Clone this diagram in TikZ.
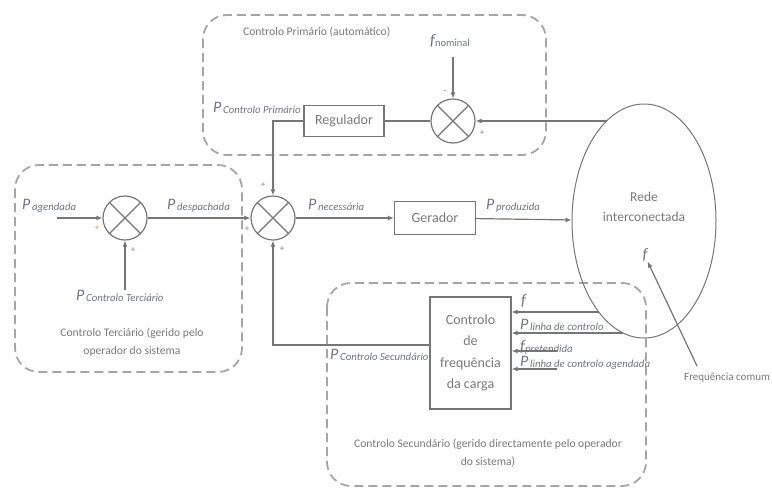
\documentclass[tikz,border=0pt]{standalone}
\usepackage{fontspec}
\setmainfont{Carlito}
\usetikzlibrary{shapes.geometric, arrows.meta, positioning}
\definecolor{linegray}{HTML}{767676}
\definecolor{txtgray}{HTML}{7A7A7A}
\definecolor{siggray}{HTML}{6E7682}
\definecolor{dashgray}{HTML}{A6A6A6}
\definecolor{signpurple}{HTML}{9B6FB5}
\definecolor{signorange}{HTML}{D8955E}
\tikzstyle{block} = [rectangle, draw=linegray, line width=1.2pt, text=txtgray, font=\fontsize{14}{21.5}\selectfont, align=center, inner sep=0pt]
\tikzstyle{summer} = [circle, draw=linegray, line width=1.2pt, minimum size=44pt, inner sep=0pt, path picture={\draw[linegray, line width=1.2pt] (path picture bounding box.north west) -- (path picture bounding box.south east) (path picture bounding box.north east) -- (path picture bounding box.south west);}]
\tikzstyle{area} = [draw=dashgray, line width=1.8pt, dash pattern=on 9pt off 5pt, rounded corners=24pt]
\tikzstyle{flow} = [line width=1.2pt, draw=linegray, -{Latex[length=6pt,width=5pt]}]
\tikzstyle{wire} = [line width=1.2pt, draw=linegray]
\tikzstyle{sign} = [text=signpurple, font=\fontsize{9}{9}\selectfont, inner sep=0pt]
\tikzstyle{caption} = [text=txtgray, font=\fontsize{11.6}{18}\selectfont, align=center, inner sep=0pt]
\tikzstyle{sig} = [text=siggray, inner sep=0pt, anchor=base west]
\newcommand{\psig}[1]{{\fontsize{16}{16}\selectfont\itshape P}\,\raisebox{-1.5pt}{\fontsize{10.8}{11}\selectfont\itshape #1}}
\newcommand{\fsig}[1]{{\fontsize{16}{16}\selectfont\itshape f}\raisebox{-1.5pt}{\fontsize{10.8}{11}\selectfont\itshape #1}}

\begin{document}
\begin{tikzpicture}[x=1pt, y=-1pt]
\useasboundingbox (0,0) rectangle (772,488);

% Areas
\draw[area] (203,15) rectangle (546,155);
\draw[area] (15,165) rectangle (242,372);
\draw[area] (327,283) rectangle (646,486);
\node (primtxt) [caption, anchor=west] at (243,32) {Controlo Primário (automático)};
\node (tertxt) [caption] at (132,342) {Controlo Terciário (gerido pelo\\operador do sistema};
\node (sectxt) [caption] at (488,453) {Controlo Secundário (gerido directamente pelo operador\\do sistema)};

% Nodes
\node (s1) [summer] at (125,218) {};
\node (s2) [summer, right of=s1, node distance=148pt] {};
\node (gerador) [block, right of=s2, node distance=162pt, minimum width=81pt, minimum height=33pt] {Gerador};
\node (rede) [ellipse, draw=linegray, line width=1pt, minimum width=144pt, minimum height=234pt] at (644,221) {};
\node (redetxt) [caption, font=\fontsize{13.5}{20}\selectfont] at (644,207) {Rede\\interconectada};
\node (fnet) [sig, anchor=center, text=siggray] at (645,255) {\fontsize{16}{16}\selectfont\itshape f};
\node (s3) [summer] at (453,121) {};
\node (regulador) [block, left of=s3, node distance=109pt, minimum width=80pt, minimum height=31pt] {Regulador};
\node (ctrl) [block, minimum width=81pt, minimum height=112pt] at (470.5,353) {Controlo\\de\\frequência\\da carga};
\node (freq) [caption, anchor=west, font=\fontsize{11}{12}\selectfont] at (684,378) {Frequência comum};

% Free ends
\coordinate (pin) at (57,218);
\coordinate (pter) at (125,290);
\coordinate (fnom) at (453,57);
\coordinate (rA) at (607,121);
\coordinate (rB) at (599,312);
\coordinate (rC) at (623,333);
\coordinate (fpre) at (557,351);
\coordinate (plag) at (557,369);
\coordinate (fc) at (697,366);

% Signals
\node (lagend) [sig] at (22,209) {\psig{agendada}};
\node (ldesp) [sig] at (167,209) {\psig{despachada}};
\node (lter) [sig] at (76,300) {\psig{Controlo Terciário}};
\node (lnec) [sig] at (308,209) {\psig{necessária}};
\node (lprod) [sig] at (486,209) {\psig{produzida}};
\node (lprim) [sig] at (213,112) {\psig{Controlo Primário}};
\node (lnom) [sig] at (430,45) {{\fontsize{16}{16}\selectfont\itshape f}\raisebox{-1.5pt}{\fontsize{10.5}{11}\selectfont nominal}};
\node (lsec) [sig] at (330,359) {\psig{Controlo Secundário}};
\node (lf) [sig] at (521,305) {{\fontsize{16}{16}\selectfont\itshape f}};
\node (llin) [sig] at (520,329) {\psig{linha de controlo}};
\node (lpre) [sig] at (520,351) {\fsig{pretendida}};
\node (llag) [sig] at (520,366) {\psig{linha de controlo agendada}};

% Signs
\node [sign, text=signorange] at (97,228) {+};
\node [sign] at (133,250) {+};
\node [sign] at (263,185) {+};
\node [sign] at (247,229) {+};
\node [sign] at (282,249) {+};
\node [sign, text=txtgray] at (445,92) {-};
\node [sign] at (482,133) {+};

% Edges
\draw [flow] (pin) -- (s1.west);
\draw [flow] (pter) -- (s1.south);
\draw [flow] (s1) -- (s2);
\draw [flow] (s2) -- (gerador);
\draw [flow] (gerador) -- (rede);
\draw [flow] (rA) -- (s3.east);
\draw [flow] (fnom) -- (s3.north);
\draw [wire] (s3) -- (regulador);
\draw [flow] (regulador.west) -| (s2.north);
\draw [flow] ([yshift=8pt]ctrl.west) -| (s2.south);
\draw [flow] (rB) -- (rB -| ctrl.east);
\draw [flow] (rC) -- (rC -| ctrl.east);
\draw [flow] (fpre) -- (fpre -| ctrl.east);
\draw [flow] (plag) -- (plag -| ctrl.east);
\draw [flow] (fc) -- (fnet.south east);
\end{tikzpicture}
\end{document}
